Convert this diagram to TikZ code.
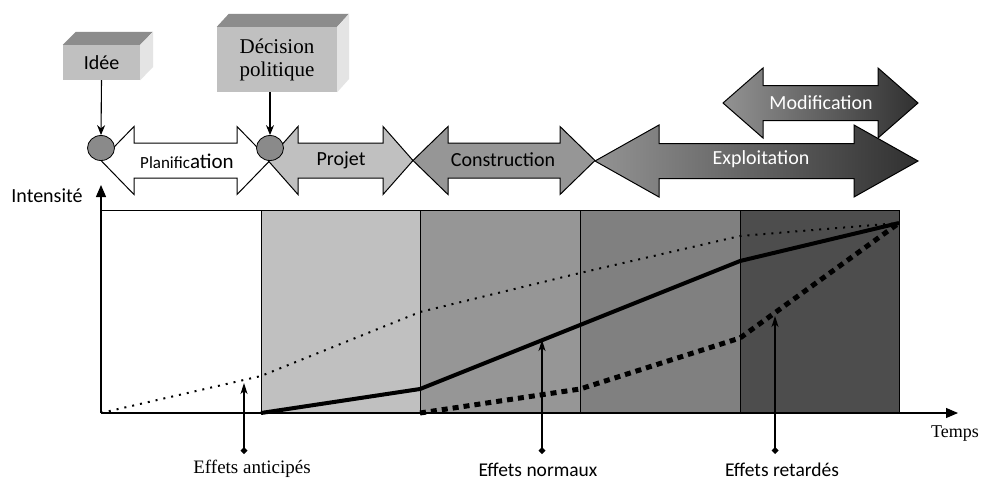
\documentclass[tikz,border=0pt]{standalone}
\usepackage{fontspec}
\setmainfont{Liberation Serif}
\newfontfamily\calfont{Carlito}
\usetikzlibrary{arrows.meta,shapes.geometric}
\definecolor{cA}{HTML}{C0C0C0}
\definecolor{cB}{HTML}{969696}
\definecolor{cC}{HTML}{808080}
\definecolor{cD}{HTML}{4D4D4D}
\definecolor{topface}{HTML}{8C8C8C}
\definecolor{sideface}{HTML}{E4E4E4}
\definecolor{circfill}{HTML}{8A8A8A}
\definecolor{gradL}{HTML}{939393}
\definecolor{gradR}{HTML}{303030}
% double arrow polygon: style, x1, x2, yc, head length, head half, shaft half
\newcommand{\dblarrowshape}[7]{%
  \path[draw=black, line width=1pt, #1] (#2,#4) -- (#2+#5,#4-#6) -- (#2+#5,#4-#7) -- (#3-#5,#4-#7)
    -- (#3-#5,#4-#6) -- (#3,#4) -- (#3-#5,#4+#6) -- (#3-#5,#4+#7) -- (#2+#5,#4+#7)
    -- (#2+#5,#4+#6) -- cycle;}
\tikzset{
  sanslab/.style={font=\calfont\fontsize{20}{22}\selectfont, inner sep=0pt},
  seriflab/.style={font=\fontsize{19}{23}\selectfont, inner sep=0pt},
  frontface/.style={fill=cA, inner sep=0pt, align=center},
  knot/.style={ellipse, draw=black, line width=0.8pt, fill=circfill, minimum width=27pt, minimum height=25pt, inner sep=0pt},
  col/.style={draw=black, line width=1pt},
  effarrow/.style={line width=1.3pt, {Diamond[length=7pt,width=7pt]}-{Stealth[length=11pt,width=7pt,inset=3pt]}},
  droparrow/.style={line width=1.1pt, -{Stealth[length=10pt,width=8pt]}},
}
\begin{document}
\begin{tikzpicture}[x=1pt,y=-1pt]
\path[use as bounding box, fill=white] (0,0) rectangle (984,480);

% columns
\draw[col, fill=white] (101,210) rectangle (261,413);
\draw[col, fill=cA] (261,210) rectangle (420,413);
\draw[col, fill=cB] (420,210) rectangle (580,413);
\draw[col, fill=cC] (580,210) rectangle (740,413);
\draw[col, fill=cD] (740,210) rectangle (899,413);

% curves
\draw[line width=2pt, dash pattern=on 2pt off 6pt] (101,413) -- (261,376) -- (420,312) -- (580,273) -- (740,236) -- (899,223);
\draw[line width=4pt, line join=round] (261,413) -- (420,389) -- (580,325) -- (740,261) -- (899,223);
\draw[line width=5pt, dash pattern=on 6pt off 5pt] (420,413) -- (580,389) -- (740,338) -- (899,223);

% axes
\coordinate (O) at (101,413);
\coordinate (ytop) at (101,185);
\coordinate (xend) at (958,413);
\draw[line width=1.2pt, -{Triangle[length=12pt,width=10pt]}] (O) -- (ytop);
\draw[line width=1.2pt, -{Triangle[length=12pt,width=10pt]}] (O) -- (xend);
\node[sanslab] (intens) at (47,196) {Intensité};
\node[font=\fontsize{18}{22}\selectfont, inner sep=0pt] (temps) at (955,434) {Temps};

% effect arrows
\coordinate (d1) at (244,454); \coordinate (t1) at (244,383);
\coordinate (d2) at (542,454); \coordinate (t2) at (542,340);
\coordinate (d3) at (775,454); \coordinate (t3) at (775,316);
\draw[effarrow] (d1) -- (t1);
\draw[effarrow] (d2) -- (t2);
\draw[effarrow] (d3) -- (t3);
\node[seriflab] (ant) at (252,469) {Effets anticipés};
\node[sanslab, font=\calfont\fontsize{19.5}{22}\selectfont] (norm) at (538,470) {Effets normaux};
\node[sanslab, font=\calfont\fontsize{19.5}{22}\selectfont] (ret) at (782,470) {Effets retardés};

% phase arrows
\dblarrowshape{fill=white}{101}{270}{160.5}{33}{34}{17.5}
\dblarrowshape{fill=cA}{268}{413}{160.5}{30}{34}{17.5}
\dblarrowshape{fill=cB}{413}{595}{160.5}{35}{34}{17.5}
\dblarrowshape{left color=gradL, right color=gradR}{723}{918}{103}{40}{35}{17.5}
\dblarrowshape{left color=gradL, right color=gradR}{595}{918}{161}{64}{36}{17.5}

\node[inner sep=0pt, font=\calfont] (plan) at (187,161) {\fontsize{17}{20}\selectfont Planific\fontsize{21}{20}\selectfont ation};
\node[sanslab] (proj) at (341,160) {Projet};
\node[sanslab] (constr) at (503,160) {Construction};
\node[sanslab, text=white] (expl) at (761,159) {Exploitation};
\node[sanslab, text=white] (modif) at (821,103) {Modification};

% 3D boxes
\node[frontface, minimum width=77pt, minimum height=35pt, font=\calfont\fontsize{20}{22}\selectfont] (idee) at (101.5,62.5) {Idée};
\fill[topface] (idee.north west) -- ++(13,-13) -- ++(77,0) -- (idee.north east) -- cycle;
\fill[sideface] (idee.north east) -- ++(13,-13) -- ++(0,35) -- (idee.south east) -- cycle;

\node[frontface, minimum width=120pt, minimum height=65pt, font=\fontsize{21}{23}\selectfont] (dec) at (277,59.5) {Décision\\politique};
\fill[topface] (dec.north west) -- ++(12,-13) -- ++(120,0) -- (dec.north east) -- cycle;
\fill[sideface] (dec.north east) -- ++(12,-13) -- ++(0,65) -- (dec.south east) -- cycle;

% knots
\node[knot] (k1) at (101,148) {};
\node[knot] (k2) at (270,148) {};
\draw[droparrow] (idee.south) -- (k1.north);
\draw[droparrow] (dec.south -| k2) -- (k2.north);
\end{tikzpicture}
\end{document}
